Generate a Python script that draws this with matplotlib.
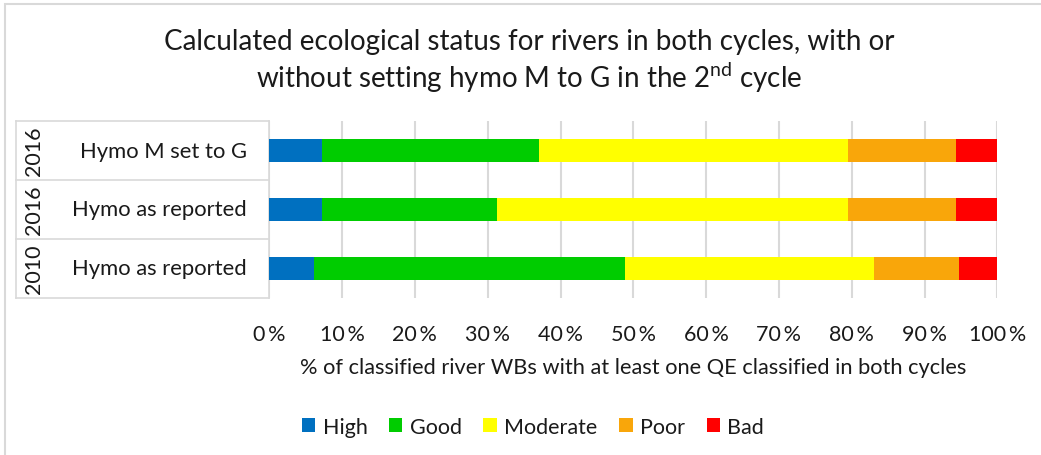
import numpy as np
import matplotlib
matplotlib.use("Agg")
import matplotlib.pyplot as plt
from matplotlib.patches import Rectangle, Patch

plt.rcParams["font.family"] = ["Lato", "DejaVu Sans"]
plt.rcParams["mathtext.fontset"] = "custom"
plt.rcParams["mathtext.rm"] = "Lato"

# bottom to top
years = ["2010", "2016", "2016"]
scenarios = ["Hymo as reported", "Hymo as reported", "Hymo M set to G"]
classes = ["High", "Good", "Moderate", "Poor", "Bad"]
colors = ["#0070c0", "#00cc00", "#ffff00", "#f9a60a", "#ff0000"]

high = [6.1, 7.3, 7.3]
good = [42.7, 24.0, 29.7]
moderate = [34.2, 48.2, 42.5]
poor = [11.7, 14.8, 14.8]
bad = [5.3, 5.7, 5.7]
values = [high, good, moderate, poor, bad]

W, H = 1041, 456
txt = "#1a1a1a"
fig = plt.figure(figsize=(W / 100, H / 100), dpi=100)

# chart area border (top and left visible)
fig.patches.append(Rectangle((5 / W, -0.1), 1.2, 1 - 5 / H + 0.1,
                             transform=fig.transFigure, fill=False,
                             edgecolor="#d9d9d9", linewidth=1.5))

ax = fig.add_axes([269.3 / W, 1 - 299 / H, (997.3 - 269.3) / W, 177 / H])

y = np.arange(len(scenarios))
left = np.zeros(len(scenarios))
for name, vals, col in zip(classes, values, colors):
    ax.barh(y, vals, left=left, height=0.4, color=col, label=name, zorder=3)
    left += np.array(vals)

ax.set_xlim(0, 100)
ax.set_ylim(-0.5, 2.5)
ax.set_xticks(np.arange(0, 101, 10))
ax.set_xticklabels([f"{v}\u2009%" for v in range(0, 101, 10)], fontsize=15.5, color=txt)
ax.tick_params(axis="x", length=0, pad=19)
ax.set_yticks([])
ax.grid(axis="x", color="#d9d9d9", linewidth=1.5, zorder=0)
for s in ["top", "right", "bottom"]:
    ax.spines[s].set_visible(False)
ax.spines["left"].set_color("#d9d9d9")
ax.spines["left"].set_linewidth(1.2)

ax.set_xlabel("% of classified river WBs with at least one QE classified in both cycles",
              fontsize=15.7, color=txt, labelpad=9)

# category table on the left
tr = ax.get_yaxis_transform()
x_left = (16 - 269.3) / (997.3 - 269.3)
x_year = (34 - 269.3) / (997.3 - 269.3)
x_lab = (247 - 269.3) / (997.3 - 269.3)
for b in [-0.5, 0.5, 1.5, 2.5]:
    ax.plot([x_left, 0], [b, b], transform=tr,
            color="#d9d9d9", linewidth=1.2, clip_on=False)
ax.plot([x_left, x_left], [-0.5, 2.5], transform=tr,
        color="#d9d9d9", linewidth=1.2, clip_on=False)
for i in range(len(scenarios)):
    ax.text(x_lab, y[i], scenarios[i], transform=tr, ha="right", va="center",
            fontsize=15.8, color=txt)
    ax.text(x_year, y[i], years[i], transform=tr, ha="center", va="center",
            rotation=90, fontsize=15.5, color=txt)

fig.text(529 / W, 1 - 62 / H,
         "Calculated ecological status for rivers in both cycles, with or\n"
         "without setting hymo M to G in the 2$^{\\mathrm{nd}}$ cycle",
         ha="center", va="center", fontsize=20, color=txt, linespacing=1.2)

handles = [Patch(facecolor=c, edgecolor="none") for c in colors]
fig.legend(handles, classes, loc="center", bbox_to_anchor=(533 / W, 1 - 428 / H),
           ncol=5, frameon=False, fontsize=15.5, handlelength=0.62, handleheight=0.62,
           handletextpad=0.35, columnspacing=1.0, labelcolor=txt)

fig.savefig("out.png", dpi=100)
